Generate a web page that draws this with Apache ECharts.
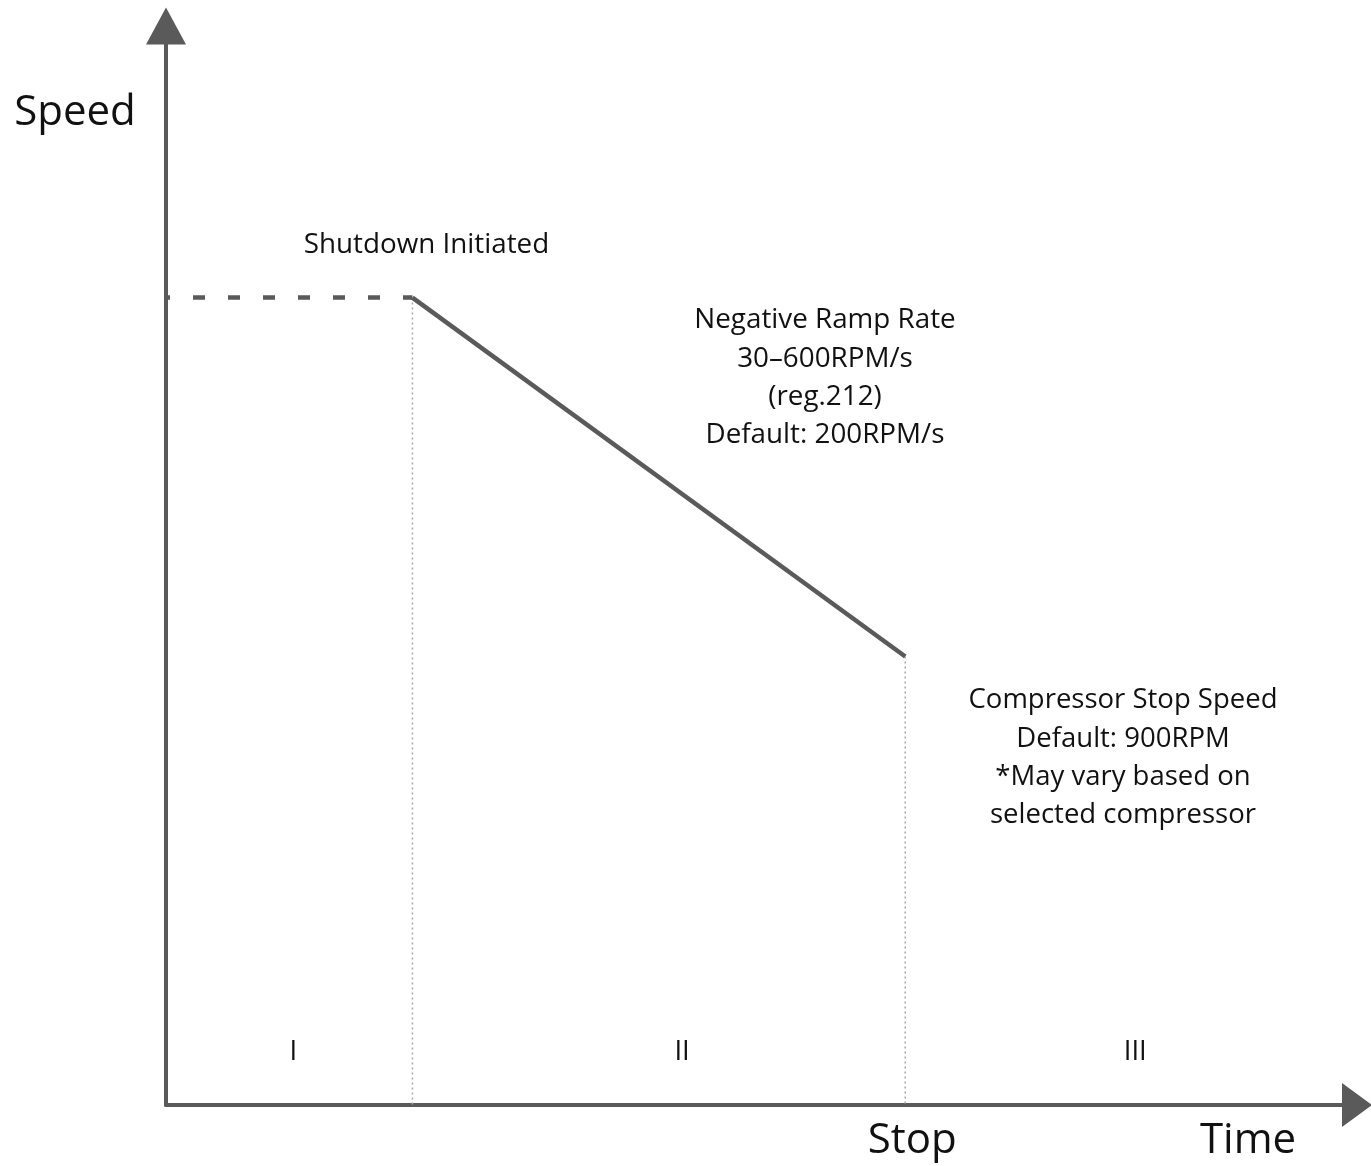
<!DOCTYPE html>
<html>
<head>
<meta charset="utf-8">
<script src="https://cdn.jsdelivr.net/npm/echarts@6/dist/echarts.min.js"></script>
<style>
  html, body { margin: 0; padding: 0; background: #fff; }
  #chart_container { width: 1371px; height: 1166px; }
</style>
</head>
<body>
<div id="chart_container"></div>
<script>
// shutdown ramp diagram

var chartDom = document.getElementById('chart_container');
var myChart = echarts.init(chartDom);

// axis ranges (time in s, speed in RPM)
const xMax = 8.7;
const yMax = 2165;

// key points of the speed profile
const tShutdown = 1.8;
const tStop     = 5.4;
const runSpeed  = 1620;
const stopSpeed = 900;

const holdLine = [[0, runSpeed], [tShutdown, runSpeed]];
const rampLine = [[tShutdown, runSpeed], [tStop, stopSpeed]];
const dropShutdown = [[tShutdown, runSpeed], [tShutdown, 0]];
const dropStop     = [[tStop, stopSpeed], [tStop, 0]];

// region labels I / II / III
const regionNames = ['I', 'II', 'III'];
const regionX     = [0.93, 3.77, 7.08];
const regionY     = 106;

const noteShutdown = ['Shutdown Initiated'];
const noteRamp = ['Negative Ramp Rate', '30–600RPM/s', '(reg.212)', 'Default: 200RPM/s'];
const noteStop = ['Compressor Stop Speed', 'Default: 900RPM', '*May vary based on', 'selected compressor'];

const axisColor = '#5a5a5a';
const textColor = '#111';
const font = '"Open Sans", sans-serif';

var opt1 = {
    animation: false,
    grid: { left: 166, right: 14, top: 26, bottom: 61 },
    xAxis: {
        type: 'value',
        min: 0,
        max: xMax,
        axisLine: {
            onZero: false,
            symbol: ['none', 'triangle'],
            symbolSize: [44, 30],
            lineStyle: { color: axisColor, width: 4 }
        },
        axisTick: { show: false },
        axisLabel: { show: false },
        splitLine: { show: false }
    },
    yAxis: {
        type: 'value',
        min: 0,
        max: yMax,
        axisLine: {
            show: true,
            onZero: false,
            symbol: ['none', 'triangle'],
            symbolSize: [40, 37],
            lineStyle: { color: axisColor, width: 4 }
        },
        axisTick: { show: false },
        axisLabel: { show: false },
        splitLine: { show: false }
    },
    series: [
        {
            name: 'hold',
            type: 'line',
            data: holdLine,
            symbol: 'none',
            lineStyle: { color: axisColor, width: 4.5, type: [12, 23], dashOffset: 8, cap: 'butt' },
            z: 3
        },
        {
            name: 'ramp',
            type: 'line',
            data: rampLine,
            symbol: 'none',
            lineStyle: { color: axisColor, width: 4.5 },
            z: 3
        },
        {
            name: 'dropShutdown',
            type: 'line',
            data: dropShutdown,
            symbol: 'none',
            lineStyle: { color: '#a8a8a8', width: 1.5, type: [2, 3] },
            z: 2
        },
        {
            name: 'dropStop',
            type: 'line',
            data: dropStop,
            symbol: 'none',
            lineStyle: { color: '#a8a8a8', width: 1.5, type: [2, 3] },
            z: 2
        }
    ]
};

myChart.setOption(opt1);

// text annotations anchored to the data coordinates
function px(x, y) {
    return myChart.convertToPixel({ gridIndex: 0 }, [x, y]);
}

function textBlock(lines, x, y, size, lh) {
    return {
        type: 'text',
        x: x,
        y: y,
        style: {
            text: lines.join('\n'),
            fill: textColor,
            font: size + 'px ' + font,
            lineHeight: lh,
            align: 'center',
            verticalAlign: 'middle'
        }
    };
}

var graphics = [];
var pShut = px(tShutdown, runSpeed);
var pStop = px(tStop, 0);
var pOrigin = px(0, 0);

graphics.push(textBlock(noteShutdown, pShut[0] + 14, pShut[1] - 53, 27.8, 38));
graphics.push(textBlock(noteRamp, 825, 378, 27.8, 38.3));
graphics.push(textBlock(noteStop, 1123, 758, 27.5, 38.3));

for (let i = 0; i < regionNames.length; i++) {
    let p = px(regionX[i], regionY);
    graphics.push(textBlock([regionNames[i]], p[0], p[1], 27.5, 30));
}

graphics.push(textBlock(['Speed'], 75, 113, 42, 48));
graphics.push(textBlock(['Stop'], pStop[0] + 7, pOrigin[1] + 36, 42, 48));
graphics.push(textBlock(['Time'], 1248, pOrigin[1] + 36, 42, 48));

myChart.setOption({ graphic: graphics });
</script>
</body>
</html>
